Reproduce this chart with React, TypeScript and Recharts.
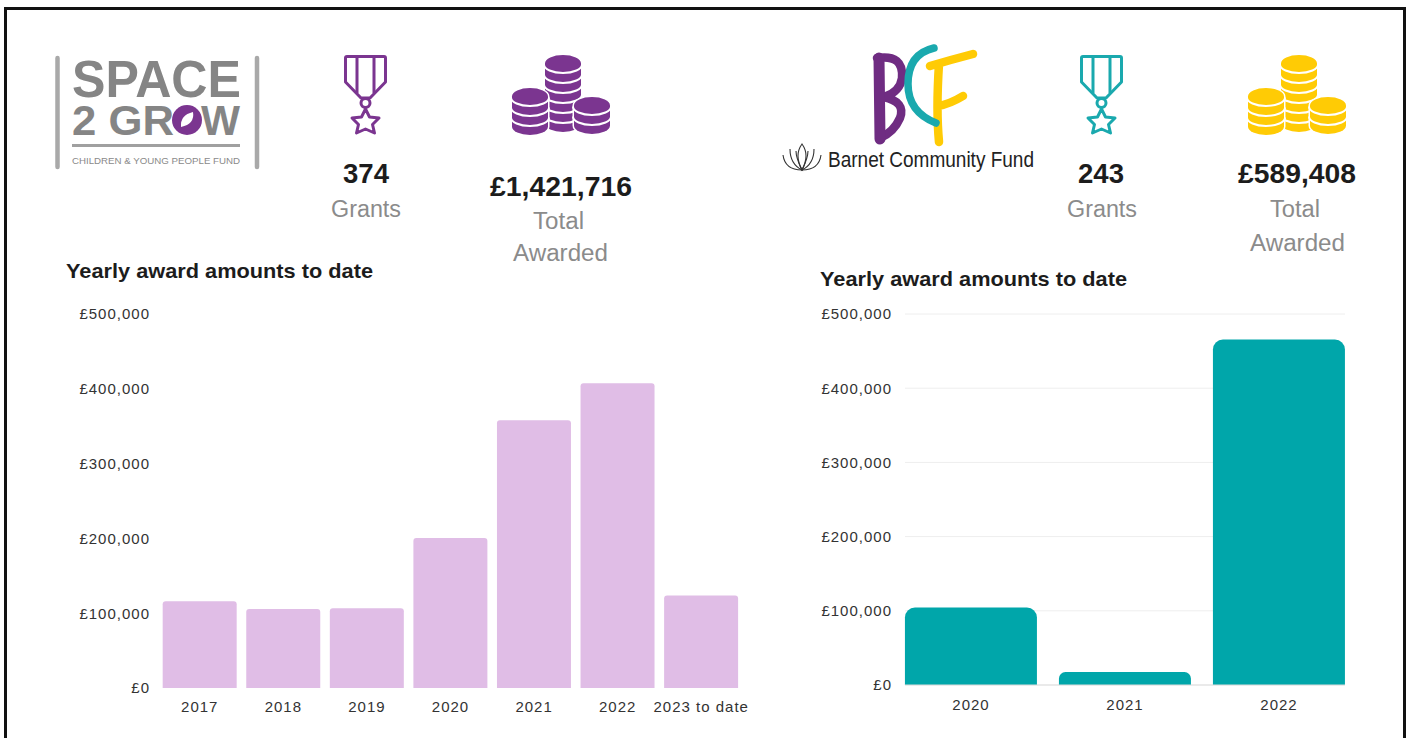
import { BarChart, Bar, XAxis, YAxis, CartesianGrid } from 'recharts';

const space2GrowYears = ['2017', '2018', '2019', '2020', '2021', '2022', '2023 to date'];
const space2GrowAwards = [116000, 105500, 106500, 200500, 358000, 407500, 123500];
const barnetYears = ['2020', '2021', '2022'];
const barnetAwards = [104500, 17500, 465500];
const awardTicks = [0, 100000, 200000, 300000, 400000, 500000];

const PURPLE = '#7b3590';
const TEAL = '#1aa9ae';
const YELLOW = '#ffcb05';
const FONT = '"Liberation Sans", Arial, sans-serif';

const formatPounds = (value: number) => `£${value.toLocaleString('en-GB')}`;

const Medal = ({ x, y, color }: { x: number; y: number; color: string }) => (
  <g transform={`translate(${x} ${y})`} fill="none" stroke={color} strokeWidth={3} strokeLinejoin="round">
    <path d="M1.5 3 Q1.5 1.5 3 1.5 H40 Q41.5 1.5 41.5 3 V27 L26 43 H17 L1.5 27 Z" />
    <path d="M13 2 V38 M30 2 V38" />
    <circle cx={21.5} cy={48} r={4.5} />
    <path d="M21.5 54 L25.5 62 L35 63 L28.5 69.5 L30.5 78 L21.5 74 L12.5 78 L14.5 69.5 L8 63 L17.5 62 Z" />
  </g>
);

const CoinStack = ({ cx, top, bands, color }: { cx: number; top: number; bands: number; color: string }) => {
  const bottom = top + 8.5 + bands * 10;
  const lines = Array.from({ length: bands }, (_, k) => top + 9.5 + k * 10);
  return (
    <g>
      <path
        d={`M${cx - 18} ${top + 8.5} A18 8.5 0 0 1 ${cx + 18} ${top + 8.5} V${bottom} A18 8.5 0 0 1 ${cx - 18} ${bottom} Z`}
        fill={color}
        stroke="#fff"
        strokeWidth={3}
        paintOrder="stroke"
      />
      {lines.map((y) => (
        <path key={y} d={`M${cx - 19} ${y} A19 8.5 0 0 0 ${cx + 19} ${y}`} fill="none" stroke="#fff" strokeWidth={2} />
      ))}
    </g>
  );
};

const Coins = ({ x, y, color }: { x: number; y: number; color: string }) => (
  <g transform={`translate(${x} ${y})`}>
    <CoinStack cx={51} top={0} bands={6} color={color} />
    <CoinStack cx={18} top={33} bands={3} color={color} />
    <CoinStack cx={80} top={42} bands={2} color={color} />
  </g>
);

const Stretch = ({ x, y, w, size, bold, fill, family, children }: any) => (
  <text
    x={x}
    y={y}
    textLength={w}
    lengthAdjust="spacingAndGlyphs"
    fontSize={size}
    fontWeight={bold ? 700 : 400}
    fill={fill}
    fontFamily={family || FONT}
  >
    {children}
  </text>
);

const Header = () => (
  <svg width={1409} height={300} style={{ position: 'absolute', left: 0, top: 0 }}>
    {/* space 2 grow logo */}
    <path d="M57.5 58 V167" stroke="#a9a9a9" strokeWidth={4.5} strokeLinecap="round" />
    <path d="M257 58 V167" stroke="#a9a9a9" strokeWidth={4.5} strokeLinecap="round" />
    <Stretch x={72} y={97} w={169} size={52} bold fill="#858585">SPACE</Stretch>
    <Stretch x={72} y={135} w={102} size={42} bold fill="#858585">2 GR</Stretch>
    <circle cx={187} cy={120} r={15} fill={PURPLE} />
    <path d="M181 127 Q180 115 193 112 Q195 124 181 127 Z" fill="#fff" />
    <Stretch x={201} y={135} w={39} size={42} bold fill="#858585">W</Stretch>
    <path d="M72 145.5 H240" stroke="#a0a0a0" strokeWidth={3} />
    <Stretch x={72} y={164} w={168} size={9} fill="#8a8a8a">CHILDREN &amp; YOUNG PEOPLE FUND</Stretch>

    <Medal x={344} y={55} color={PURPLE} />
    <Coins x={512} y={55} color={PURPLE} />
    <Stretch x={343} y={183} w={46} size={27} bold fill="#1c1c1c">374</Stretch>
    <Stretch x={331} y={217} w={70} size={23} fill="#8b8b8b">Grants</Stretch>
    <Stretch x={490} y={196} w={142} size={27} bold fill="#1c1c1c">£1,421,716</Stretch>
    <Stretch x={533} y={229} w={51} size={23} fill="#8b8b8b">Total</Stretch>
    <Stretch x={513} y={261} w={95} size={23} fill="#8b8b8b">Awarded</Stretch>
    <Stretch x={66} y={278} w={307} size={21} bold fill="#1c1c1c">Yearly award amounts to date</Stretch>

    {/* barnet community fund logo */}
    <path d="M877 58 Q904 54 902 78 Q900 92 884 97 Q906 102 900 118 Q894 132 880 138" fill="none" stroke="#6f2c82" strokeWidth={8.5} strokeLinecap="round" strokeLinejoin="round" />
    <path d="M879 58 L880 139" stroke="#6f2c82" strokeWidth={11} strokeLinecap="round" />
    <path d="M930 66 Q950 60 973 54 M939 64 Q936 110 939 142 M938 106 Q950 104 963 96" fill="none" stroke={YELLOW} strokeWidth={8.5} strokeLinecap="round" />
    <path d="M934 48 Q908 54 908 84 Q908 112 936 123" fill="none" stroke={TEAL} strokeWidth={7.5} strokeLinecap="round" />
    <g fill="none" stroke="#333" strokeWidth={1.1}>
      <path d="M802 144 Q794 155 802 170 Q810 155 802 144 Z" />
      <path d="M790 149 Q790 164 802 170 Q796 158 796 151 M814 149 Q814 164 802 170 Q808 158 808 151" />
      <path d="M783 155 Q785 170 802 170 M821 155 Q819 170 802 170" />
    </g>
    <Stretch x={828} y={167} w={206} size={22} fill="#222" family={'"Liberation Sans Narrow", sans-serif'}>
      Barnet Community Fund
    </Stretch>

    <Medal x={1080} y={55} color={TEAL} />
    <Coins x={1248} y={55} color={YELLOW} />
    <Stretch x={1078} y={183} w={46} size={27} bold fill="#1c1c1c">243</Stretch>
    <Stretch x={1067} y={217} w={70} size={23} fill="#8b8b8b">Grants</Stretch>
    <Stretch x={1238} y={183} w={118} size={27} bold fill="#1c1c1c">£589,408</Stretch>
    <Stretch x={1270} y={217} w={50} size={23} fill="#8b8b8b">Total</Stretch>
    <Stretch x={1250} y={251} w={95} size={23} fill="#8b8b8b">Awarded</Stretch>
    <Stretch x={820} y={286} w={307} size={21} bold fill="#1c1c1c">Yearly award amounts to date</Stretch>
  </svg>
);

const tickStyle = { fontSize: 15, fill: '#333', fontFamily: FONT, letterSpacing: 1 };

const Space2GrowChart = () => {
  const rows = space2GrowYears.map((year, i) => ({ year, award: space2GrowAwards[i] }));
  return (
    <div style={{ position: 'absolute', left: 0, top: 300 }}>
      <BarChart width={760} height={430} data={rows} barCategoryGap="5.6%" margin={{ top: 14, right: 17, bottom: 12, left: 0 }}>
        <XAxis dataKey="year" interval={0} axisLine={false} tickLine={false} tickSize={0} tickMargin={13} tick={tickStyle} />
        <YAxis
          width={158}
          domain={[0, 500000]}
          ticks={awardTicks}
          tickFormatter={formatPounds}
          axisLine={false}
          tickLine={false}
          tickSize={0}
          tickMargin={8}
          tick={tickStyle}
        />
        <Bar dataKey="award" fill="#e0bde6" radius={[3, 3, 0, 0]} isAnimationActive={false} />
      </BarChart>
    </div>
  );
};

const BarnetChart = () => {
  const rows = barnetYears.map((year, i) => ({ year, award: barnetAwards[i] }));
  return (
    <div style={{ position: 'absolute', left: 760, top: 300 }}>
      <BarChart width={620} height={430} data={rows} barCategoryGap="7.1%" margin={{ top: 14, right: 35, bottom: 15, left: 0 }}>
        <CartesianGrid vertical={false} stroke="#eeeeee" />
        <XAxis
          dataKey="year"
          interval={0}
          padding={{ left: -11, right: -11 }}
          axisLine={{ stroke: '#dddddd' }}
          tickLine={false}
          tickSize={0}
          tickMargin={14}
          tick={tickStyle}
        />
        <YAxis
          width={145}
          domain={[0, 500000]}
          ticks={awardTicks}
          tickFormatter={formatPounds}
          axisLine={false}
          tickLine={false}
          tickSize={0}
          tickMargin={13}
          tick={tickStyle}
        />
        <Bar dataKey="award" fill="#00a6aa" radius={[10, 10, 0, 0]} isAnimationActive={false} />
      </BarChart>
    </div>
  );
};

const App = () => (
  <div style={{ position: 'fixed', left: 0, top: 0, width: 1409, height: 738, background: '#fff', overflow: 'hidden' }}>
    <div style={{ position: 'absolute', left: 4, top: 7, width: 1402, height: 760, border: '3px solid #111', boxSizing: 'border-box' }} />
    <Header />
    <Space2GrowChart />
    <BarnetChart />
  </div>
);

export default App;
